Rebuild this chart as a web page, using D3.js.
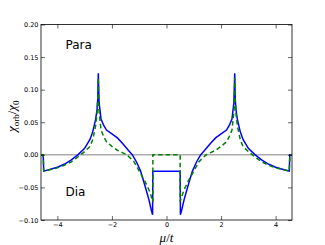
<!DOCTYPE html>
<html><head><meta charset="utf-8">
<script src="https://cdn.jsdelivr.net/npm/d3@7"></script>
<style>body{margin:0;background:#fff}svg{display:block}</style>
</head><body>
<script>
// Data
const muBlue = [-4.6,-4.52,-4.5,-4.25,-4.0,-3.75,-3.5,-3.25,-3.0,-2.8,-2.7,-2.6,-2.55,-2.52,-2.5,-2.47,-2.4,-2.3,-2.2,-2.0,-1.8,-1.6,-1.4,-1.25,-1.1,-0.95,-0.8,-0.65,-0.55,-0.51,-0.5,
  0.5,0.51,0.55,0.65,0.8,0.95,1.1,1.25,1.4,1.6,1.8,2.0,2.2,2.3,2.4,2.47,2.5,2.52,2.55,2.6,2.7,2.8,3.0,3.25,3.5,3.75,4.0,4.25,4.5,4.52,4.6];
const chiBlue = [0,0,-0.025,-0.022,-0.019,-0.0145,-0.008,0,0.010,0.024,0.036,0.054,0.068,0.085,0.125,0.080,0.055,0.045,0.038,0.032,0.026,0.017,0.007,0,-0.011,-0.025,-0.046,-0.068,-0.086,-0.092,-0.025,
  -0.025,-0.092,-0.086,-0.068,-0.046,-0.025,-0.011,0,0.007,0.017,0.026,0.032,0.038,0.045,0.055,0.080,0.125,0.085,0.068,0.054,0.036,0.024,0.010,0,-0.008,-0.0145,-0.019,-0.022,-0.025,0,0];
const muGreen = [-4.6,-4.52,-4.5,-4.25,-4.0,-3.75,-3.5,-3.3,-3.15,-3.0,-2.8,-2.7,-2.6,-2.55,-2.52,-2.5,-2.48,-2.4,-2.3,-2.2,-2.0,-1.8,-1.6,-1.45,-1.2,-1.0,-0.8,-0.65,-0.55,-0.5,-0.5,
  0.5,0.5,0.55,0.65,0.8,1.0,1.2,1.45,1.6,1.8,2.0,2.2,2.3,2.4,2.48,2.5,2.52,2.55,2.6,2.7,2.8,3.0,3.15,3.3,3.5,3.75,4.0,4.25,4.5,4.52,4.6];
const chiGreen = [0,0,-0.025,-0.0225,-0.020,-0.016,-0.011,-0.005,0,0.005,0.013,0.024,0.044,0.062,0.085,0.118,0.070,0.038,0.028,0.020,0.013,0.007,0.003,0,-0.010,-0.025,-0.040,-0.053,-0.065,-0.072,0,
  0,-0.072,-0.065,-0.053,-0.040,-0.025,-0.010,0,0.003,0.007,0.013,0.020,0.028,0.038,0.070,0.118,0.085,0.062,0.044,0.024,0.013,0.005,0,-0.005,-0.011,-0.016,-0.020,-0.0225,-0.025,0,0];
const xTicks = [-4,-2,0,2,4];
const yTicks = [-0.10,-0.05,0.00,0.05,0.10,0.15,0.20];
const labels = [{t:"Para",mu:-3.7,chi:0.163},{t:"Dia",mu:-3.7,chi:-0.063}];

const W=325,H=245, L=41, R=292, T=24.5, B=220;
const svg=d3.select("body").append("svg").attr("width",W).attr("height",H);
const x=d3.scaleLinear().domain([-4.6,4.6]).range([L,R]);
const y=d3.scaleLinear().domain([-0.10,0.20]).range([B,T]);

// zero line
svg.append("line").attr("x1",x(-4.6)).attr("x2",x(4.6)).attr("y1",y(0)).attr("y2",y(0))
  .attr("stroke","#aaaaaa").attr("stroke-width",1.5);

const line=d3.line().x(d=>x(d[0])).y(d=>y(d[1]));
const g=svg.append("g");
g.append("path").datum(muBlue.map((m,i)=>[m,chiBlue[i]])).attr("d",line)
  .attr("fill","none").attr("stroke","#0000ff").attr("stroke-width",1.5);
g.append("path").datum(muGreen.map((m,i)=>[m,chiGreen[i]])).attr("d",line)
  .attr("fill","none").attr("stroke","#008000").attr("stroke-width",1.5).attr("stroke-dasharray","4.5,3");

// axes
const fmt=d=>(d<0?"\u2212":"")+Math.abs(d).toFixed(2);
const xb=svg.append("g").attr("transform",`translate(0,${B})`)
  .call(d3.axisBottom(x).tickValues(xTicks).tickSizeInner(-4).tickSizeOuter(0).tickPadding(2.5).tickFormat(d=>(d<0?"\u2212":"")+Math.abs(d)));
const xt=svg.append("g").attr("transform",`translate(0,${T})`)
  .call(d3.axisTop(x).tickValues(xTicks).tickSizeInner(-4).tickSizeOuter(0).tickFormat(""));
const yl=svg.append("g").attr("transform",`translate(${L},0)`)
  .call(d3.axisLeft(y).tickValues(yTicks).tickSizeInner(-4).tickSizeOuter(0).tickPadding(2.5).tickFormat(fmt));
const yr=svg.append("g").attr("transform",`translate(${R},0)`)
  .call(d3.axisRight(y).tickValues(yTicks).tickSizeInner(-4).tickSizeOuter(0).tickFormat(""));
[xb,xt,yl,yr].forEach(a=>{a.select(".domain").remove();a.selectAll("text").attr("font-family","DejaVu Sans").attr("font-size",6.5).attr("fill","#000");a.selectAll("line").attr("stroke","#000").attr("stroke-width",0.6);});
svg.append("rect").attr("x",L).attr("y",T).attr("width",R-L).attr("height",B-T)
  .attr("fill","none").attr("stroke","#000").attr("stroke-width",0.8);

// labels
labels.forEach(l=>svg.append("text").attr("x",x(l.mu)).attr("y",y(l.chi)).text(l.t)
  .attr("font-family","DejaVu Sans").attr("font-size",12).attr("fill","#000"));

const xl=svg.append("text").attr("x",(L+R)/2).attr("y",242).attr("text-anchor","middle")
  .attr("font-family","Liberation Serif").attr("font-size",13).attr("font-style","italic");
xl.append("tspan").text("\u03bc");
xl.append("tspan").attr("font-style","normal").text("/");
xl.append("tspan").text("t");

const ylab=svg.append("text").attr("transform",`translate(16,${(T+B)/2-6}) rotate(-90)`).attr("text-anchor","middle")
  .attr("font-family","Liberation Serif").attr("font-size",13);
ylab.append("tspan").attr("font-style","italic").text("\u03c7");
ylab.append("tspan").attr("font-size",9).attr("dy",3).text("orb");
ylab.append("tspan").attr("dy",-3).text("/");
ylab.append("tspan").attr("font-style","italic").text("\u03c7");
ylab.append("tspan").attr("font-size",9).attr("dy",3).text("0");
</script>
</body></html>
